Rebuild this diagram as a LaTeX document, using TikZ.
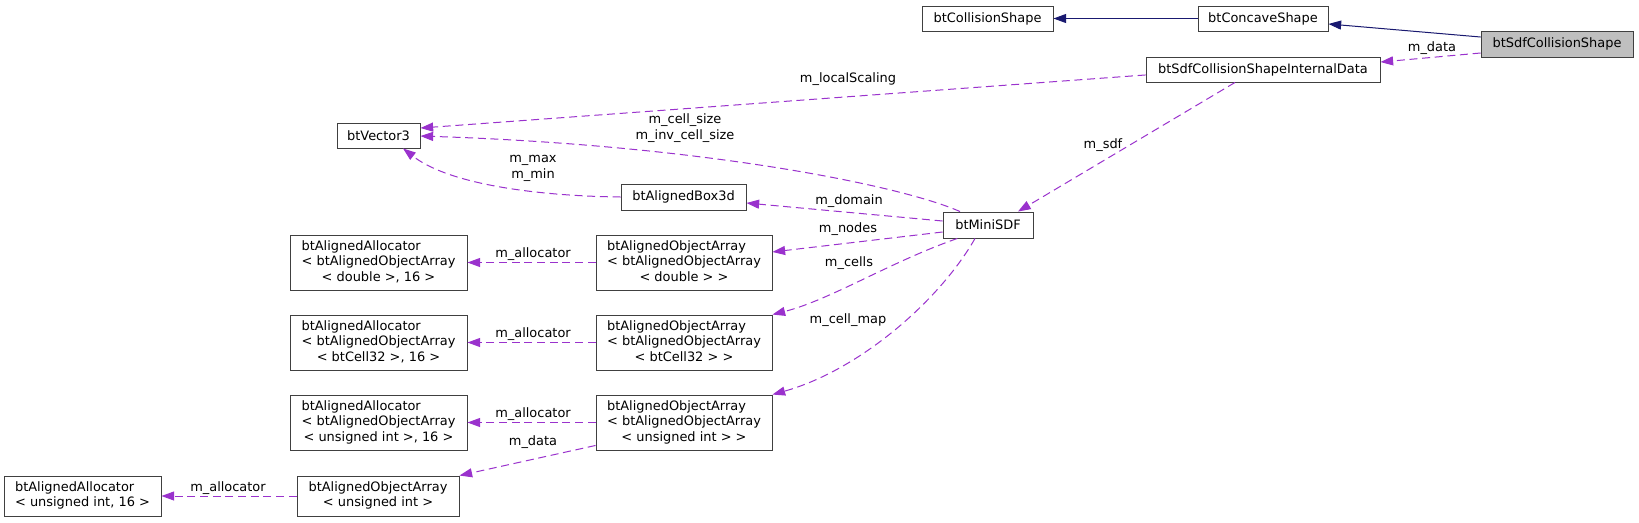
\documentclass[tikz,border=0pt]{standalone}
\usepackage{fontspec}
\setmainfont{DejaVu Sans}
\usetikzlibrary{arrows.meta}
\definecolor{edgep}{HTML}{9A32CD}
\definecolor{edgen}{HTML}{191970}
\definecolor{boxb}{HTML}{404040}
\definecolor{boxf}{HTML}{BFBFBF}
\newcommand{\threeln}[3]{\begin{tabular}{@{}l@{}}#1\\#2\\\multicolumn{1}{@{}c@{}}{#3}\end{tabular}}
\newcommand{\twoln}[2]{\begin{tabular}{@{}l@{}}#1\\\multicolumn{1}{@{}c@{}}{#2}\end{tabular}}
\begin{document}
\begin{tikzpicture}[x=0.75pt,y=-0.75pt,
  font=\fontsize{9.7}{11.6}\selectfont,
  cls/.style={draw=boxb, line width=0.7pt, inner sep=0pt, fill=white},
  bx/.style 2 args={minimum width=#1*0.75pt, minimum height=#2*0.75pt},
  inh/.style={draw=edgen, line width=0.75pt, -{Triangle[length=9.5pt,width=6.75pt]}},
  use/.style={draw=edgep, line width=0.75pt, dash pattern=on 6pt off 3.5pt, -{Triangle[length=9.5pt,width=6.75pt]}},
  lbl/.style={inner sep=0pt, align=center}
]
\path[use as bounding box, fill=white] (0,0) rectangle (1639,522);

% nodes
\node[cls, bx={131}{25}] (coll) at (987.5,18.5) {btCollisionShape};
\node[cls, bx={130}{25}] (conc) at (1263,18.5) {btConcaveShape};
\node[cls, bx={152}{26}, fill=boxf] (sdf) at (1557,44) {btSdfCollisionShape};
\node[cls, bx={234}{25}] (idata) at (1263,69.5) {btSdfCollisionShapeInternalData};
\node[cls, bx={83}{25}] (vec) at (378.5,135.5) {btVector3};
\node[cls, bx={125}{26}] (box) at (683.5,197) {btAlignedBox3d};
\node[cls, bx={90}{26}] (mini) at (988,225) {btMiniSDF};
\node[cls, bx={177}{55}] (allocD) at (378.5,262.5) {\threeln{btAlignedAllocator}{< btAlignedObjectArray}{< double >, 16 >}};
\node[cls, bx={176}{55}] (arrD) at (684,262.5) {\threeln{btAlignedObjectArray}{< btAlignedObjectArray}{< double > >}};
\node[cls, bx={177}{55}] (allocC) at (378.5,342.5) {\threeln{btAlignedAllocator}{< btAlignedObjectArray}{< btCell32 >, 16 >}};
\node[cls, bx={176}{55}] (arrC) at (684,342.5) {\threeln{btAlignedObjectArray}{< btAlignedObjectArray}{< btCell32 > >}};
\node[cls, bx={177}{55}] (allocU) at (378.5,422.5) {\threeln{btAlignedAllocator}{< btAlignedObjectArray}{< unsigned int >, 16 >}};
\node[cls, bx={176}{55}] (arrU) at (684,422.5) {\threeln{btAlignedObjectArray}{< btAlignedObjectArray}{< unsigned int > >}};
\node[cls, bx={157}{40}] (allocUI) at (82.5,496) {\twoln{btAlignedAllocator}{< unsigned int, 16 >}};
\node[cls, bx={162}{40}] (arrUI) at (378,496) {\twoln{btAlignedObjectArray}{< unsigned int >}};

% inheritance
\draw[inh] ([yshift=5.25pt]sdf.west) -- ([yshift=-4.1pt]conc.east);
\draw[inh] (conc.west) -- (coll.east);

% usage
\draw[use] ([yshift=-6.75pt]sdf.west) -- ([yshift=5.6pt]idata.east);
\draw[use] ([yshift=-4.1pt]idata.west) -- ([yshift=5.6pt]vec.east);
\draw[use] ([xshift=-21pt]idata.south) -- ([xshift=22.5pt]mini.north);
\draw[use] ([xshift=-21pt]mini.north) .. controls (900,185) and (700,145) .. ([yshift=-0.4pt]vec.east);
\draw[use] ([yshift=3pt]mini.west) -- ([yshift=-4.5pt]box.east);
\draw[use] (box.west) .. controls (540,196) and (450,185) .. ([xshift=18.4pt]vec.south);
\draw[use] ([yshift=-5.25pt]mini.west) -- ([yshift=7.9pt]arrD.east);
\draw[use] ([xshift=-23pt]mini.south) .. controls (890,262) and (830,300) .. (arrC.north east);
\draw[use] ([xshift=-9.75pt]mini.south) .. controls (940,300) and (860,370) .. (arrU.north east);
\draw[use] (arrD.west) -- (allocD.east);
\draw[use] (arrC.west) -- (allocC.east);
\draw[use] (arrU.west) -- (allocU.east);
\draw[use] ([yshift=3.75pt]arrU.south west) -- (arrUI.north east);
\draw[use] (arrUI.west) -- (allocUI.east);

% labels
\node[lbl] (l1) at (1432,48) {m\_data};
\node[lbl] (l2) at (848,79) {m\_localScaling};
\node[lbl] (l3) at (1103,145) {m\_sdf};
\node[lbl] (l4) at (685,128) {m\_cell\_size\\m\_inv\_cell\_size};
\node[lbl] (l5) at (533,168.5) {m\_max\\m\_min};
\node[lbl] (l6) at (849,201) {m\_domain};
\node[lbl] (l7) at (848,229) {m\_nodes};
\node[lbl] (l8) at (849,263) {m\_cells};
\node[lbl] (l9) at (848,320) {m\_cell\_map};
\node[lbl] (l10) at (533,254) {m\_allocator};
\node[lbl] (l11) at (533,334) {m\_allocator};
\node[lbl] (l12) at (533,414) {m\_allocator};
\node[lbl] (l13) at (533,442) {m\_data};
\node[lbl] (l14) at (228,488) {m\_allocator};
\end{tikzpicture}
\end{document}
